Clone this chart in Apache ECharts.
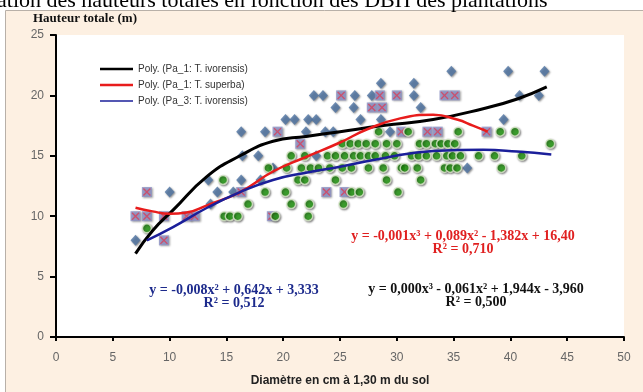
<!DOCTYPE html>
<html>
<head>
<meta charset="utf-8">
<script src="https://cdn.jsdelivr.net/npm/echarts@6/dist/echarts.min.js"></script>
<style>
html,body{margin:0;padding:0;background:#fff;}
#chart{width:643px;height:392px;}
</style>
</head>
<body>
<div id="chart"></div>
<script>
// ---- Data ----
const xTickValues = [0, 5, 10, 15, 20, 25, 30, 35, 40, 45, 50];
const yTickValues = [0, 5, 10, 15, 20, 25];

const nameIvo1 = 'Pa_1: T. ivorensis';
const nameSup1 = 'Pa_1: T. superba';
const nameIvo3 = 'Pa_3: T. ivorensis';
const trendNames = ['Poly. (Pa_1: T. ivorensis)', 'Poly. (Pa_1: T. superba)', 'Poly. (Pa_3: T. ivorensis)'];

// Pa_1 : T. ivorensis (diamonds) [diameter, height]
const ivorensis1 = [
  [7,8],[13.6,11],[10,12],[14.2,12],[15.6,12],[13.4,13],[16.3,13],[18,13],
  [19.1,14],[36.2,14],[16.4,15],[17.8,15],[22.9,15],
  [16.3,17],[18.4,17],[22,17],[23.7,17],[24.4,17],[29.4,17],
  [20.2,18],[21,18],[22.2,18],[22.9,18],[26.8,18],[28.6,18],[39.4,18],
  [24.6,19],[26.2,19],[32.1,19],
  [22.7,20],[23.5,20],[26.3,20],[27.8,20],[31.5,20],[40.8,20],[42.5,20],
  [28.6,21],[31.5,21],
  [34.8,22],[39.8,22],[43,22]
];
// Pa_1 : T. superba (squares with X)
const superba1 = [
  [9.5,8],[7,10],[8,10],[9.5,10],[11.5,10],[12.2,10],[19,10],
  [8,12],[16.3,12],[23.8,12],[25.4,12],
  [21.5,16],[19.5,17],[30.4,17],[32.7,17],[33.6,17],[37.9,17],
  [27.8,19],[28.7,19],
  [25.1,20],[28.5,20],[30,20],[34.2,20],[35.1,20]
];
// Pa_3 : T. ivorensis (circles)
const ivorensis3 = [
  [8,9],
  [14.8,10],[15.3,10],[16,10],[19.3,10],[22.2,10],
  [16.9,11],[20.7,11],[22.3,11],[25.3,11],
  [18.4,12],[20.2,12],[26,12],[26.7,12],[30.1,12],
  [14.7,13],[21.3,13],[21.9,13],[24.6,13],[29.1,13],[32.1,13],
  [18.7,14],[20.3,14],[21.6,14],[22.4,14],[23.1,14],[24.1,14],[25.2,14],[26,14],[27.5,14],
  [28.8,14],[30.4,14],[30.7,14],[31.8,14],[34.2,14],[34.7,14],[35.3,14],[39.2,14],
  [20.7,15],[21.9,15],[23.9,15],[24.6,15],[25.4,15],[26.2,15],[26.8,15],[27.5,15],[28.1,15],
  [29,15],[29.8,15],[31.3,15],[31.9,15],[32.6,15],[33.5,15],[34.4,15],[34.9,15],[35.6,15],
  [37.2,15],[38.6,15],[41,15],
  [25.2,16],[25.9,16],[26.6,16],[27.3,16],[28.1,16],[29.1,16],[30,16],[32,16],[32.6,16],
  [33.4,16],[33.9,16],[34.5,16],[35.1,16],[43.5,16],
  [28.4,17],[31,17],[35.4,17],[39.1,17],[40.4,17]
];

// Trend curves, points
const trendIvo1 = [[7,6.9],[8.5,8.8],[10.3,10.5],[13.3,13.3],[16.2,15.0],[19.1,16.2],[22,16.6],
  [25,17.0],[28.8,17.5],[33.2,18.0],[37.6,18.9],[40.6,19.7],[43.2,20.7]];
const trendSup1 = [[7,10.7],[8.5,10.4],[10,10.2],[11.5,10.3],[13.3,10.9],[16.2,12.0],[19.1,13.7],
  [22,14.9],[25,16.1],[27.4,17.2],[30.3,18.1],[33.2,18.4],[35.3,18.0],[36.7,17.5],[38,17.0]];
const trendIvo3 = [[8,8.0],[10.3,9.1],[13.3,10.7],[16.2,12.0],[19.1,13.0],[22,13.6],[25,14.1],
  [28.8,14.8],[33.2,15.4],[37.6,15.5],[40.6,15.35],[43.6,15.1]];

const eqIvo3 = ['y = -0,008x² + 0,642x + 3,333', 'R² = 0,512'];
const eqSup1 = ['y = -0,001x³ + 0,089x² - 1,382x + 16,40', 'R² = 0,710'];
const eqIvo1 = ['y = 0,000x³ - 0,061x² + 1,944x - 3,960', 'R² = 0,500'];

const pageTitle = 'ation des hauteurs totales en fonction des DBH des plantations';
const yTitle = 'Hauteur totale (m)';
const xTitle = 'Diamètre en cm à 1,30 m du sol';

// ---- Chart ----
const chart = echarts.init(document.getElementById('chart'), null, {renderer: 'canvas'});
const xPath = 'path://M0,1.2 L1.2,0 L5,3.8 L8.8,0 L10,1.2 L6.2,5 L10,8.8 L8.8,10 L5,6.2 L1.2,10 L0,8.8 L3.8,5 Z';
const thickIcon = 'path://M0,0 L33,0 L33,2.6 L0,2.6 Z';
const thinIcon = 'path://M0,0 L33,0 L33,1.6 L0,1.6 Z';
const serif = '"Liberation Serif", "DejaVu Serif", serif';
const sans = '"Liberation Sans", Arial, sans-serif';

const eqText = (lines, cx, y, color) => lines.map((t, i) => ({
  type: 'text', x: cx, y: y + i * 13, z: 50,
  style: {text: t, fill: color, font: 'bold 14px ' + serif, textAlign: 'center', textVerticalAlign: 'middle'}
}));

chart.setOption({
  animation: false,
  backgroundColor: '#ffffff',
  grid: {left: 56, right: 19, top: 35, bottom: 51, show: true, backgroundColor: '#ffffff', borderWidth: 0},
  xAxis: {
    type: 'value', min: 0, max: 50, interval: 5,
    axisLine: {show: true, onZero: false, lineStyle: {color: '#000', width: 2}},
    axisTick: {show: true, length: 4, lineStyle: {color: '#000', width: 2}},
    axisLabel: {color: '#666', fontSize: 12, fontFamily: sans, margin: 15,
      formatter: v => xTickValues.includes(v) ? String(v) : ''},
    splitLine: {show: false},
    name: xTitle, nameLocation: 'middle', nameGap: 38,
    nameTextStyle: {color: '#222', fontSize: 12, fontWeight: 'bold', fontFamily: sans}
  },
  yAxis: {
    type: 'value', min: 0, max: 25, interval: 5,
    axisLine: {show: true, onZero: false, lineStyle: {color: '#000', width: 2}},
    axisTick: {show: true, length: 6, lineStyle: {color: '#000', width: 2}},
    axisLabel: {color: '#666', fontSize: 12, fontFamily: sans, margin: 12,
      formatter: v => yTickValues.includes(v) ? String(v) : ''},
    splitLine: {show: false}
  },
  legend: {
    orient: 'vertical', left: 95, top: 59, itemGap: 6, itemWidth: 33, itemHeight: 10,
    textStyle: {fontSize: 10, color: '#333', fontFamily: sans},
    data: [
      {name: trendNames[0], icon: thickIcon},
      {name: trendNames[1], icon: thickIcon},
      {name: trendNames[2], icon: thinIcon}
    ]
  },
  graphic: [
    {type: 'rect', z: -100, silent: true,
      shape: {x: 5.5, y: 10.5, width: 640, height: 384},
      style: {fill: '#fdf0e2', stroke: '#b8b0a8', lineWidth: 1}},
    {type: 'text', z: 10, x: -3, y: 12,
      style: {text: pageTitle, fill: '#000', font: '22px ' + serif, textVerticalAlign: 'bottom'}},
    {type: 'text', z: 10, x: 33, y: 19,
      style: {text: yTitle, fill: '#111', font: 'bold 13px ' + serif, textVerticalAlign: 'middle'}},
    ...eqText(eqIvo3, 234, 290, '#1c2a8c'),
    ...eqText(eqSup1, 463, 236, '#e02020'),
    ...eqText(eqIvo1, 476, 289, '#111111')
  ],
  series: [
    {name: nameIvo1, type: 'scatter', data: ivorensis1, symbol: 'diamond', symbolSize: [10, 11],
      itemStyle: {color: '#4d73a3', shadowColor: 'rgba(0,0,0,0.55)', shadowBlur: 2, shadowOffsetX: 1, shadowOffsetY: 1}, z: 2},
    {name: nameSup1, type: 'scatter', data: superba1, symbol: 'rect', symbolSize: 10,
      itemStyle: {color: '#8a8fc4', shadowColor: 'rgba(0,0,0,0.45)', shadowBlur: 2, shadowOffsetX: 1, shadowOffsetY: 1}, z: 3},
    {name: nameSup1 + ' x', type: 'scatter', data: superba1, symbol: xPath, symbolSize: 8,
      itemStyle: {color: '#d8405a'}, z: 4},
    {name: nameIvo3, type: 'scatter', data: ivorensis3, symbol: 'circle', symbolSize: 9,
      itemStyle: {color: '#229a10', borderColor: '#dfe8cf', borderWidth: 1.5,
        shadowColor: 'rgba(0,0,0,0.5)', shadowBlur: 2, shadowOffsetX: 1, shadowOffsetY: 1}, z: 5},
    {name: trendNames[0], type: 'line', data: trendIvo1, smooth: true, symbol: 'none', showSymbol: false,
      lineStyle: {color: '#000', width: 3}, itemStyle: {color: '#000'}, z: 10},
    {name: trendNames[1], type: 'line', data: trendSup1, smooth: true, symbol: 'none', showSymbol: false,
      lineStyle: {color: '#e81c1c', width: 2.5}, itemStyle: {color: '#e81c1c'}, z: 11},
    {name: trendNames[2], type: 'line', data: trendIvo3, smooth: true, symbol: 'none', showSymbol: false,
      lineStyle: {color: '#1b1f9a', width: 2.5}, itemStyle: {color: '#1b1f9a'}, z: 12}
  ]
});
</script>
</body>
</html>
